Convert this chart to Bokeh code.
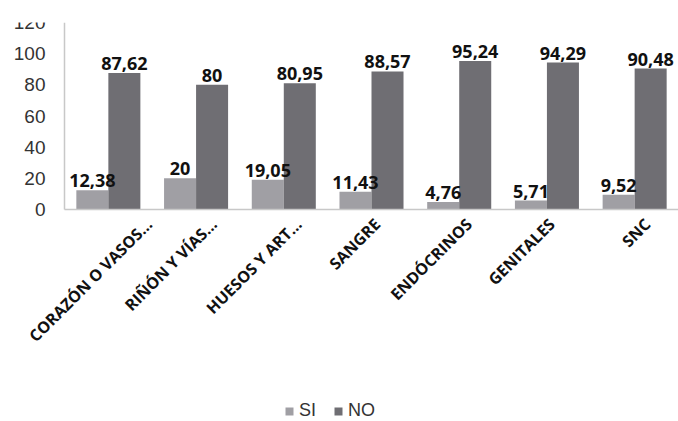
import math
from bokeh.plotting import figure
from bokeh.models import (Range1d, ColumnDataSource, Legend, LegendItem, FixedTicker, Label)
from bokeh.transform import dodge
from bokeh.core.properties import value
from bokeh.embed import file_html
from bokeh.resources import INLINE

categories = ["CORAZÓN O VASOS…", "RIÑÓN Y VÍAS…", "HUESOS Y ART…", "SANGRE",
              "ENDÓCRINOS", "GENITALES", "SNC"]
si_values = [12.38, 20, 19.05, 11.43, 4.76, 5.71, 9.52]
no_values = [87.62, 80, 80.95, 88.57, 95.24, 94.29, 90.48]
y_ticks = [0, 20, 40, 60, 80, 100, 120]

# horizontal shift (px) of each rotated category label, as seen in the reference
label_dx = [33, 10, 7, -2, 2, -3, 5]

def fmt(v):
    s = ("%.2f" % v).rstrip("0").rstrip(".")
    return s.replace(".", ",")

n = len(categories)
# category slots: slot i spans [i, i+1], centre at i + 0.5
slot_centre = [i + 0.5 for i in range(n)]

src = ColumnDataSource(dict(
    cat=categories, pos=slot_centre, si=si_values, no=no_values,
    si_lab=[fmt(v) for v in si_values], no_lab=[fmt(v) for v in no_values],
))

SI_COLOR = "#a09fa4"
NO_COLOR = "#6f6e73"
AXIS_COLOR = "#c8c8c8"

W, H = 678, 421
PLOT_LEFT = 64            # pixel where the value axis sits
TOP = 22                  # pixel of value 120
ZERO = 209                # pixel of value 0
unit_px = (W - PLOT_LEFT) / n
x_start = -PLOT_LEFT / unit_px
y_bottom = -(H - ZERO) * 120 / (ZERO - TOP)

p = figure(width=W, height=H, x_range=Range1d(x_start, n),
           y_range=Range1d(y_bottom, 120), output_backend="svg", toolbar_location=None,
           min_border_left=0, min_border_right=0, min_border_top=TOP, min_border_bottom=0)
p.outline_line_color = None
p.grid.visible = False

bw = 0.365
r_si = p.vbar(x=dodge("pos", -bw / 2), top="si", width=bw, source=src,
              fill_color=SI_COLOR, line_color=None)
r_no = p.vbar(x=dodge("pos", bw / 2), top="no", width=bw, source=src,
              fill_color=NO_COLOR, line_color=None)

for col, off in (("si_lab", -bw / 2), ("no_lab", bw / 2)):
    ycol = "si" if col == "si_lab" else "no"
    p.text(x=dodge("pos", off), y=ycol, text=col, source=src,
           text_align="center", text_baseline="bottom", y_offset=-3,
           text_font=value("Open Sans"), text_font_style="bold",
           text_font_size="18px", text_color="#111111")

# category labels, rotated 45 degrees, hanging below the baseline
for c, xc, dx in zip(categories, slot_centre, label_dx):
    p.add_layout(Label(x=xc, y=0, text=c, angle=math.pi / 4,
                       x_offset=dx, y_offset=-4, text_align="right", text_baseline="top",
                       text_font="Open Sans", text_font_style="bold",
                       text_font_size="16px", text_color="#111111"))

# x axis: only its line, at value 0, across the category slots
p.xaxis.fixed_location = 0
p.xaxis.bounds = (0, n)
p.xaxis.ticker = FixedTicker(ticks=[])
p.xaxis.major_tick_line_color = None
p.xaxis.minor_tick_line_color = None
p.xaxis.major_label_text_font_size = "0px"
p.xaxis.axis_line_color = AXIS_COLOR
p.xaxis.axis_line_width = 1.5

# y axis at the left edge of the first category slot
p.yaxis.fixed_location = 0
p.yaxis.ticker = FixedTicker(ticks=y_ticks)
p.yaxis.bounds = (0, 120)
p.yaxis.major_tick_line_color = None
p.yaxis.major_tick_out = 0
p.yaxis.major_tick_in = 0
p.yaxis.minor_tick_line_color = None
p.yaxis.axis_line_color = AXIS_COLOR
p.yaxis.axis_line_width = 1.5
p.yaxis.major_label_text_font = "Liberation Sans"
p.yaxis.major_label_text_font_size = "19px"
p.yaxis.major_label_text_color = "#333333"
p.yaxis.major_label_standoff = 19

legend = Legend(items=[LegendItem(label="SI", renderers=[r_si]),
                       LegendItem(label="NO", renderers=[r_no])],
                orientation="horizontal", location=(284, 0),
                label_text_font="Liberation Sans", label_text_font_size="18px",
                label_text_color="#333333", glyph_width=10, glyph_height=10,
                label_standoff=5, spacing=14, border_line_color=None,
                background_fill_alpha=0, padding=0, margin=0)
p.add_layout(legend, "center")

open("out.html", "w").write(file_html(p, INLINE))
